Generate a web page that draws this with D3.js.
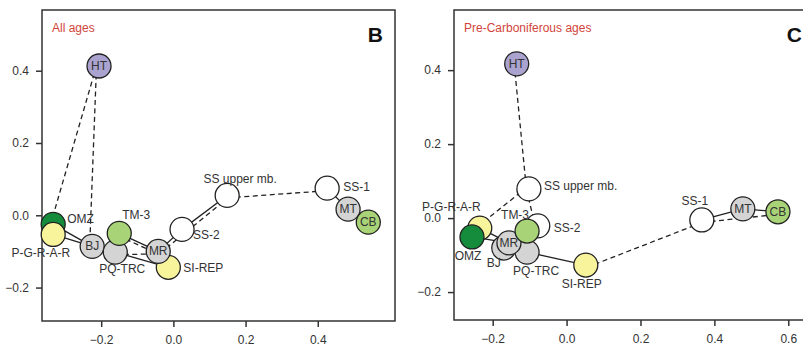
<!DOCTYPE html>
<html>
<head>
<meta charset="utf-8">
<script src="https://cdn.jsdelivr.net/npm/d3@7"></script>
<style>
  body { margin: 0; background: #fff; }
  svg { display: block; font-family: "Liberation Sans", Arial, sans-serif; }
</style>
</head>
<body>
<div id="container"></div>
<script>
// group names (same order in both panels)
const groups = ["HT", "OMZ", "P-G-R-A-R", "BJ", "TM-3", "PQ-TRC", "MR", "SI-REP",
                "SS-2", "SS upper mb.", "SS-1", "MT", "CB"];

// panel B - all ages
const allAgesX = [-0.206, -0.333, -0.333, -0.225, -0.150, -0.161, -0.042, -0.014,
                  0.024, 0.149, 0.426, 0.484, 0.540];
const allAgesY = [0.413, -0.025, -0.053, -0.086, -0.050, -0.102, -0.100, -0.144,
                  -0.039, 0.055, 0.075, 0.017, -0.019];
// links: [from, to, neighbour rank]  (1 = solid, 2 = dashed)
const allAgesLinks = [
  ["HT", "OMZ", 2], ["HT", "BJ", 2],
  ["OMZ", "BJ", 1], ["P-G-R-A-R", "BJ", 1],
  ["TM-3", "MR", 1], ["TM-3", "MR", 2],
  ["PQ-TRC", "MR", 2], ["PQ-TRC", "SI-REP", 1],
  ["MR", "SS-2", 1], ["SS-2", "SS upper mb.", 1], ["MR", "SS upper mb.", 2],
  ["SS upper mb.", "SS-1", 2],
  ["SS-1", "MT", 1], ["MT", "CB", 1]
];

// panel C - pre-Carboniferous ages
const preCarbX = [-0.135, -0.256, -0.235, -0.170, -0.107, -0.107, -0.156, 0.052,
                  -0.078, -0.102, 0.366, 0.477, 0.572];
const preCarbY = [0.417, -0.051, -0.027, -0.081, -0.035, -0.092, -0.067, -0.127,
                  -0.021, 0.079, -0.005, 0.025, 0.017];
const preCarbLinks = [
  ["HT", "SS upper mb.", 2], ["SS upper mb.", "P-G-R-A-R", 2], ["SS upper mb.", "SS-2", 2],
  ["OMZ", "MR", 1], ["P-G-R-A-R", "MR", 1],
  ["PQ-TRC", "SI-REP", 1], ["SI-REP", "SS-1", 2],
  ["SS-1", "MT", 1], ["SS-1", "CB", 2], ["MT", "CB", 1]
];

const xTicksB = [-0.2, 0.0, 0.2, 0.4];
const xTicksC = [-0.2, 0.0, 0.2, 0.4, 0.6];
const yTicks = [-0.2, 0.0, 0.2, 0.4];

const fills = {
  "HT": "#aaa3cf", "OMZ": "#148c3c", "P-G-R-A-R": "#f8f49c", "BJ": "#d4d4d4",
  "TM-3": "#a9d377", "PQ-TRC": "#d4d4d4", "MR": "#d4d4d4", "SI-REP": "#f8f49c",
  "SS-2": "#fff", "SS upper mb.": "#fff", "SS-1": "#fff", "MT": "#d4d4d4", "CB": "#a9d377"
};

const width = 803, height = 344;
const svg = d3.select("#container").append("svg")
    .attr("width", width)
    .attr("height", height);

function drawPanel(opt) {
  const x = d3.scaleLinear().domain(opt.xDomain).range([opt.left, opt.left + opt.w]);
  const y = d3.scaleLinear().domain(opt.yDomain).range([opt.top + opt.h, opt.top]);
  const g = svg.append("g");

  // frame
  g.append("rect")
    .attr("x", opt.left).attr("y", opt.top)
    .attr("width", opt.w).attr("height", opt.h)
    .attr("fill", "none").attr("stroke", "#333").attr("stroke-width", 1.5);

  // axes
  const yAxis = g.append("g")
    .attr("transform", `translate(${opt.left},0)`)
    .call(d3.axisLeft(y).tickValues(yTicks).tickFormat(d3.format(".1f")).tickSize(6).tickSizeOuter(0).tickPadding(7));
  const xAxis = g.append("g")
    .attr("transform", `translate(0,${opt.top + opt.h})`)
    .call(d3.axisBottom(x).tickValues(opt.xTicks).tickFormat(d3.format(".1f")).tickSize(6).tickSizeOuter(0).tickPadding(8));
  [xAxis, yAxis].forEach(a => {
    a.select(".domain").remove();
    a.selectAll("line").attr("stroke", "#333").attr("stroke-width", 1.5);
    a.selectAll("text").attr("fill", "#333").style("font-size", "12px")
      .style("font-family", "Liberation Sans, Arial, sans-serif");
  });

  const pos = {};
  groups.forEach((n, i) => pos[n] = [x(opt.xs[i]), y(opt.ys[i])]);

  // links
  opt.links.forEach(([a, b, k]) => {
    let [x1, y1] = pos[a], [x2, y2] = pos[b];
    if (k === 2) {
      const dx = x2 - x1, dy = y2 - y1, len = Math.hypot(dx, dy);
      const ox = -dy / len * 2.5, oy = dx / len * 2.5;
      x1 += ox; x2 += ox; y1 += oy; y2 += oy;
    }
    g.append("line")
      .attr("x1", x1).attr("y1", y1).attr("x2", x2).attr("y2", y2)
      .attr("stroke", "#222").attr("stroke-width", 1.3)
      .attr("stroke-dasharray", k === 2 ? "5,3.5" : null);
  });

  // circles
  const r = 12;
  opt.order.forEach(n => {
    const [cx, cy] = pos[n];
    g.append("circle")
      .attr("cx", cx).attr("cy", cy).attr("r", r)
      .attr("fill", fills[n]).attr("stroke", "#222").attr("stroke-width", 1.3);
    if (opt.inside.includes(n)) {
      g.append("text")
        .attr("x", cx).attr("y", cy + 4)
        .attr("text-anchor", "middle")
        .style("font-size", "12px").attr("fill", "#333")
        .text(n);
    }
  });

  // outside labels
  Object.entries(opt.labels).forEach(([n, [dx, dy, anchor]]) => {
    const [cx, cy] = pos[n];
    g.append("text")
      .attr("x", cx + dx).attr("y", cy + dy + 4)
      .attr("text-anchor", anchor)
      .style("font-size", "12px").attr("fill", "#333")
      .text(n);
  });

  // title and panel letter
  g.append("text")
    .attr("x", opt.left + 10).attr("y", opt.top + 22)
    .style("font-size", "12px").attr("fill", "#d2453b")
    .text(opt.title);
  g.append("text")
    .attr("x", opt.left + opt.w - 12).attr("y", opt.top + 32)
    .attr("text-anchor", "end")
    .style("font-size", "21px").style("font-weight", "bold").attr("fill", "#111")
    .text(opt.letter);
}

drawPanel({
  left: 42, top: 10, w: 353, h: 311,
  xDomain: [-0.364, 0.614], yDomain: [-0.2925, 0.568],
  xTicks: xTicksB, xs: allAgesX, ys: allAgesY, links: allAgesLinks,
  title: "All ages", letter: "B",
  order: ["HT", "OMZ", "P-G-R-A-R", "BJ", "PQ-TRC", "TM-3", "SI-REP", "MR",
          "SS-2", "SS upper mb.", "SS-1", "MT", "CB"],
  inside: ["HT", "BJ", "MR", "MT", "CB"],
  labels: {
    "OMZ": [14, -5, "start"], "P-G-R-A-R": [17, 19, "end"], "TM-3": [3, -18, "start"],
    "PQ-TRC": [7, 17, "middle"], "SI-REP": [15, 1, "start"], "SS-2": [11, 6, "start"],
    "SS upper mb.": [13, -16, "middle"], "SS-1": [16, -1, "start"]
  }
});

drawPanel({
  left: 454, top: 10, w: 360, h: 310,
  xDomain: [-0.3047, 0.6696], yDomain: [-0.2755, 0.5626],
  xTicks: xTicksC, xs: preCarbX, ys: preCarbY, links: preCarbLinks,
  title: "Pre-Carboniferous ages", letter: "C",
  order: ["HT", "SS upper mb.", "SS-2", "P-G-R-A-R", "OMZ", "BJ", "PQ-TRC", "MR",
          "TM-3", "SI-REP", "SS-1", "MT", "CB"],
  inside: ["HT", "MR", "MT", "CB"],
  labels: {
    "SS upper mb.": [15, -3, "start"], "P-G-R-A-R": [1, -21, "end"], "TM-3": [-12, -16, "middle"],
    "SS-2": [16, 2, "start"], "OMZ": [-4, 19, "middle"], "BJ": [-10, 15, "middle"],
    "PQ-TRC": [9, 19, "middle"], "SI-REP": [-4, 19, "middle"], "SS-1": [-7, -19, "middle"]
  }
});
</script>
</body>
</html>
